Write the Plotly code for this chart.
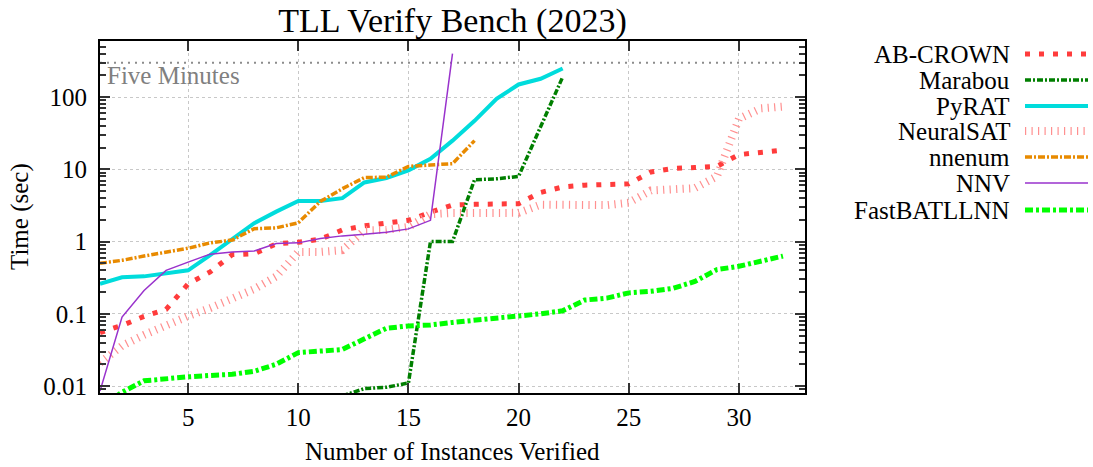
import math
import plotly.graph_objects as go

# ---------------- data ----------------
x_ab = list(range(1, 33))
ab_crown = [0.055, 0.069, 0.092, 0.115, 0.26, 0.38, 0.66, 0.68, 0.93, 0.98, 1.08, 1.45,
            1.65, 1.82, 1.97, 2.55, 3.2, 3.28, 3.3, 3.35, 4.8, 5.7, 6.05, 6.1, 6.3, 9.2,
            10.3, 10.6, 11.0, 16.0, 17.0, 18.5]

x_marabou = list(range(12, 23))
marabou = [0.0073, 0.0092, 0.0096, 0.011, 1.0, 1.0, 7.2, 7.4, 8.0, 38.0, 190.0]

x_pyrat = list(range(1, 23))
pyrat = [0.26, 0.32, 0.33, 0.36, 0.40, 0.65, 1.1, 1.8, 2.6, 3.65, 3.65, 4.0, 6.6, 7.6,
         9.7, 14.0, 25.0, 47.0, 95.0, 150.0, 180.0, 250.0]

x_neuralsat = list(range(1, 33))
neuralsat = [0.021, 0.036, 0.051, 0.07, 0.093, 0.12, 0.165, 0.22, 0.33, 0.72, 0.72, 0.76,
             1.43, 1.45, 1.6, 2.4, 2.49, 2.49, 2.49, 2.5, 3.25, 3.2, 3.2, 3.2, 3.45, 5.1,
             5.3, 5.5, 8.0, 50.0, 70.0, 74.0]

x_nnenum = list(range(1, 19))
nnenum = [0.5, 0.55, 0.63, 0.72, 0.81, 0.96, 1.05, 1.51, 1.55, 1.82, 3.6, 5.4, 7.7, 7.8,
          11.0, 11.5, 12.0, 25.0]

x_nnv = list(range(1, 18))
nnv = [0.0085, 0.09, 0.21, 0.40, 0.52, 0.67, 0.72, 0.74, 0.94, 0.96, 1.1, 1.2, 1.26, 1.35,
       1.5, 1.97, 400.0]

x_fast = list(range(1, 33))
fastbatllnn = [0.005, 0.0082, 0.0118, 0.0128, 0.0134, 0.014, 0.0145, 0.016, 0.02, 0.029,
               0.031, 0.032, 0.045, 0.063, 0.068, 0.07, 0.076, 0.081, 0.086, 0.092, 0.10,
               0.11, 0.155, 0.165, 0.195, 0.205, 0.225, 0.28, 0.41, 0.455, 0.54, 0.63]

five_minutes = 300
x_ticks = [5, 10, 15, 20, 25, 30]
y_ticks = [0.01, 0.1, 1, 10, 100]
y_ticktext = ["0.01", "0.1", "1", "10", "100"]
y_minor = [m * 10.0 ** e for e in range(-3, 3) for m in range(2, 10)]

title = "TLL Verify Bench (2023)"
x_title = "Number of Instances Verified"
y_title = "Time (sec)"

# ---------------- styles ----------------
FONT = "Liberation Serif, Times New Roman, serif"
series = [
    ("AB-CROWN", x_ab, ab_crown, dict(color="#ff3c3c", width=5, dash="5px,9px")),
    ("Marabou", x_marabou, marabou, dict(color="#007f00", width=3.5, dash="6px,2px,2px,2px")),
    ("PyRAT", x_pyrat, pyrat, dict(color="#00dcdc", width=4, dash="solid")),
    ("NeuralSAT", x_neuralsat, neuralsat, dict(color="#ff9090", width=8, dash="1.2px,5.3px")),
    ("nnenum", x_nnenum, nnenum, dict(color="#e88a00", width=3.5, dash="7px,2px,2px,2px")),
    ("NNV", x_nnv, nnv, dict(color="#9932cc", width=1.5, dash="solid")),
    ("FastBATLLNN", x_fast, fastbatllnn, dict(color="#00ff00", width=5, dash="8px,3px,3px,3px")),
]

fig = go.Figure()
for name, xs, ys, ln in series:
    fig.add_trace(go.Scatter(x=xs, y=ys, mode="lines", name=name, line=ln,
                             showlegend=False, hoverinfo="skip"))

# plot geometry in pixels
W, H = 1093, 467
L, R, T, B = 100, 805, 41, 393
pw, ph = R - L, B - T

def px_x(p):
    return (p - L) / pw

def px_y(p):
    return (B - p) / ph

shapes = [
    dict(type="line", xref="paper", yref="y", x0=0, x1=1, y0=five_minutes, y1=five_minutes,
         line=dict(color="#8c8c8c", width=2, dash="2px,5px"), layer="below"),
]
annotations = [
    dict(text="Five Minutes", xref="paper", yref="y", x=0, y=math.log10(five_minutes),
         xanchor="left", yanchor="top", xshift=5, yshift=3, showarrow=False,
         font=dict(family=FONT, size=25, color="#808080")),
    dict(text=x_title, xref="paper", yref="paper", x=0.5, y=px_y(451), xanchor="center",
         yanchor="middle", showarrow=False, font=dict(family=FONT, size=25, color="black")),
    dict(text=y_title, xref="paper", yref="paper", x=px_x(20), y=0.5, xanchor="center",
         yanchor="middle", textangle=-90, showarrow=False,
         font=dict(family=FONT, size=25, color="black")),
]

# gnuplot-style key: right-aligned text with line sample on the right
row_y = [54, 80, 106, 131, 157, 183, 210]
for (name, xs, ys, ln), ry in zip(series, row_y):
    annotations.append(dict(text=name, xref="paper", yref="paper", x=px_x(1012), y=px_y(ry),
                            xanchor="right", yanchor="middle", showarrow=False,
                            font=dict(family=FONT, size=25, color="black")))
    shapes.append(dict(type="line", xref="paper", yref="paper", x0=px_x(1025), x1=px_x(1088),
                       y0=px_y(ry), y1=px_y(ry), line=ln))

fig.update_layout(
    template="none",
    width=W, height=H,
    margin=dict(l=L, r=W - R, t=T, b=H - B, autoexpand=False),
    paper_bgcolor="white", plot_bgcolor="white",
    font=dict(family=FONT, size=25, color="black"),
    title=dict(text=title, x=0.5, xref="paper", xanchor="center",
               y=1 - 20 / H, yref="container", yanchor="middle",
               font=dict(family=FONT, size=34, color="black")),
    shapes=shapes, annotations=annotations,
)
fig.update_xaxes(
    range=[1, 33], tickmode="array", tickvals=x_ticks, automargin=False,
    ticks="inside", ticklen=10, tickwidth=1.5, tickcolor="#333",
    showline=True, linecolor="black", linewidth=2, mirror="ticks",
    showgrid=True, gridcolor="#c8c8c8", griddash="dot", gridwidth=1,
    zeroline=False, tickfont=dict(family=FONT, size=25), ticklabelstandoff=1,
)
fig.update_yaxes(
    type="log", range=[math.log10(0.008), math.log10(600)], automargin=False,
    tickmode="array", tickvals=y_ticks, ticktext=y_ticktext,
    ticks="inside", ticklen=10, tickwidth=1.5, tickcolor="#333",
    minor=dict(ticks="inside", ticklen=6, tickwidth=1.5, tickcolor="#333", showgrid=False,
               tickmode="array", tickvals=y_minor),
    showline=True, linecolor="black", linewidth=2, mirror="ticks",
    showgrid=True, gridcolor="#c8c8c8", griddash="dot", gridwidth=1,
    zeroline=False, tickfont=dict(family=FONT, size=25), ticklabelstandoff=6,
)

fig.write_html("out.html", config={"displayModeBar": False},
               post_script="document.body.style.margin='0';document.body.style.overflow='hidden';")
